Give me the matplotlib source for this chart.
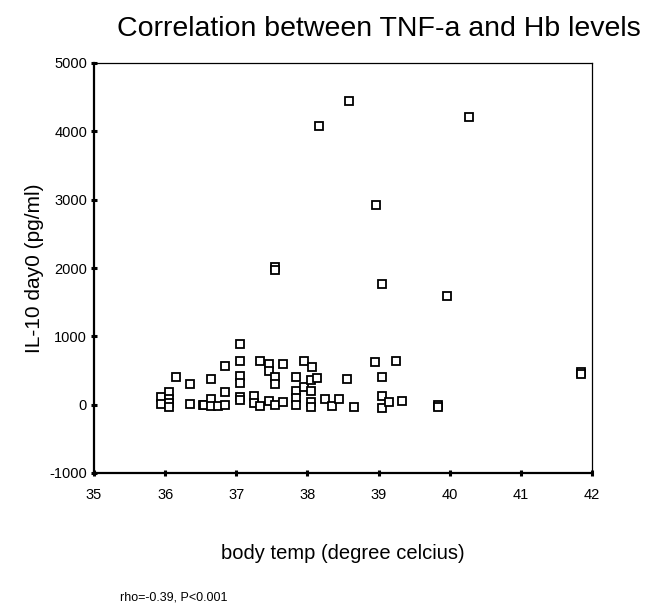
import matplotlib
matplotlib.use("Agg")
import matplotlib.pyplot as plt

plt.rcParams['font.family'] = ['Liberation Sans', 'DejaVu Sans']
plt.rcParams['axes.unicode_minus'] = False

# body temperature (degree celcius)
temp = [38.58, 40.27, 38.16, 38.96, 37.55, 37.55, 39.05, 39.96, 41.85, 41.85,
        35.94, 35.94, 36.05, 36.05, 36.05, 36.05, 36.15, 36.35, 36.35, 36.53,
        36.55, 36.65, 36.65, 36.74, 36.84, 36.84, 36.65, 36.84,
        37.05, 37.05, 37.05, 37.05, 37.05, 37.05,
        37.25, 37.25, 37.34, 37.34, 37.46, 37.46, 37.65, 37.55, 37.55,
        37.46, 37.55, 37.65, 37.84, 37.84, 37.84, 37.84,
        37.95, 38.07, 37.95, 38.05, 38.14, 38.05, 38.05, 38.05,
        38.24, 38.35, 38.44, 38.56, 38.65, 38.95, 39.24,
        39.05, 39.05, 39.05, 39.15, 39.33, 39.84, 39.84]
# IL-10 day0 (pg/ml)
il10 = [4450, 4216, 4085, 2928, 2010, 1975, 1767, 1591, 480, 455,
        117, 10, 190, 80, 20, -30, 400, 302, 10, -5,
        -10, 78, -20, -20, -5, 180, 370, 570,
        888, 634, 424, 312, 117, 70,
        132, 20, -25, 634, 595, 500, 595, 400, 302,
        50, 0, 44, 400, 195, 98, -5,
        634, 556, 254, 360, 385, 205, 34, -30,
        83, -15, 83, 376, -40, 620, 645,
        400, 132, -50, 34, 58, 0, -30]

xticks = [35, 36, 37, 38, 39, 40, 41, 42]
yticks = [-1000, 0, 1000, 2000, 3000, 4000, 5000]

fig = plt.figure(figsize=(6.64, 6.12), dpi=100)
ax = fig.add_axes([94/664, 1-473/612, (592-94)/664, (473-63)/612])

ax.plot(temp, il10, linestyle='none', marker='s', markersize=5.2,
        markerfacecolor='white', markeredgecolor='black', markeredgewidth=1.3)

ax.set_xlim(35, 42)
ax.set_ylim(-1000, 5000)
ax.set_xticks(xticks)
ax.set_yticks(yticks)
ax.tick_params(direction='inout', length=4, width=2.2, labelsize=10.5)
ax.tick_params(axis='x', pad=9)
ax.tick_params(axis='y', pad=3)

for s in ['left', 'bottom']:
    ax.spines[s].set_linewidth(1.6)
for s in ['top', 'right']:
    ax.spines[s].set_linewidth(0.9)

ax.set_ylabel('IL-10 day0 (pg/ml)', fontsize=15, labelpad=4)
ax.set_xlabel('body temp (degree celcius)', fontsize=14.5, labelpad=30)

fig.text(379/664, 1-29/612, 'Correlation between TNF-a and Hb levels',
         fontsize=20.5, ha='center', va='center')
fig.text(120/664, 1-598/612, 'rho=-0.39, P<0.001', fontsize=9,
         ha='left', va='center')

fig.savefig('out.png', dpi=100)
